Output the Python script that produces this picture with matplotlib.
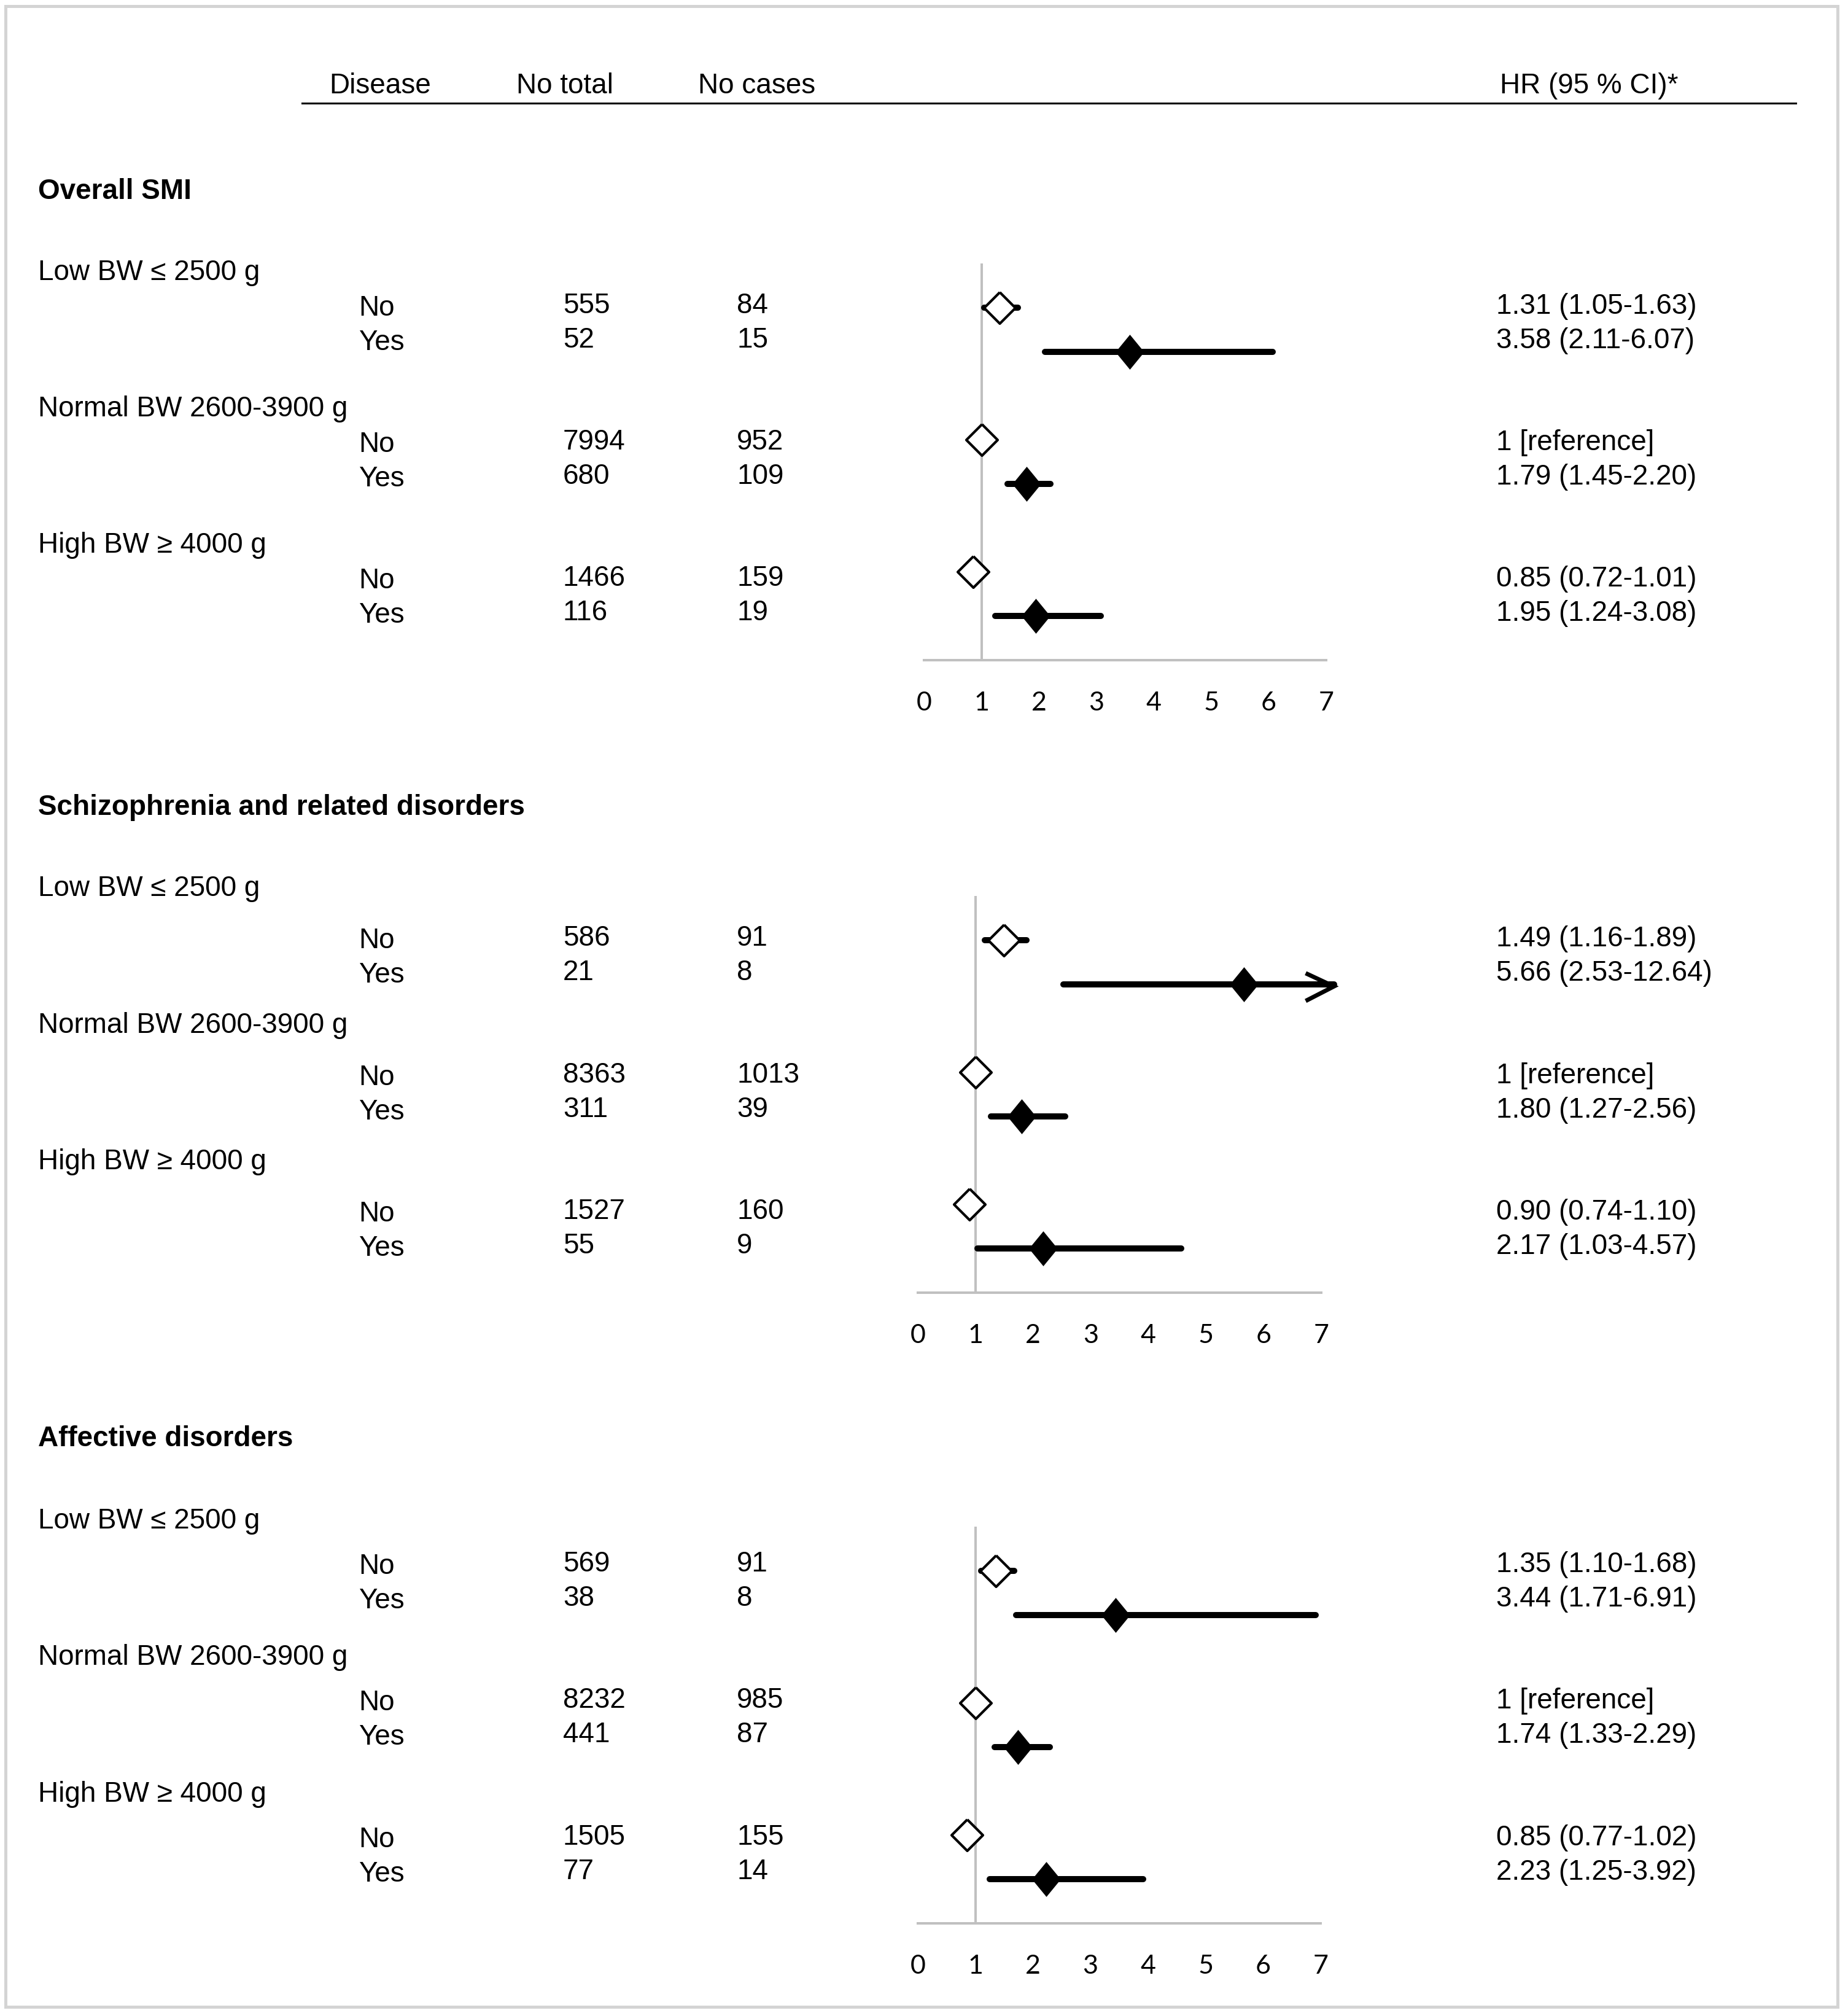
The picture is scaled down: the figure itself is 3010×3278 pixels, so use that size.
import matplotlib
matplotlib.use("Agg")
import matplotlib.pyplot as plt
from matplotlib.patches import Rectangle
from matplotlib.lines import Line2D

plt.rcParams['font.family'] = ['Liberation Sans', 'DejaVu Sans']

# ---------------- data ----------------
sections = ["Overall SMI", "Schizophrenia and related disorders", "Affective disorders"]
groups = ["Low BW \u2264 2500 g", "Normal BW 2600-3900 g", "High BW \u2265 4000 g"]
disease = ["No", "Yes"]
headers = ["Disease", "No total", "No cases", "HR (95 % CI)*"]

n_total = [[555, 52, 7994, 680, 1466, 116],
           [586, 21, 8363, 311, 1527, 55],
           [569, 38, 8232, 441, 1505, 77]]
n_cases = [[84, 15, 952, 109, 159, 19],
           [91, 8, 1013, 39, 160, 9],
           [91, 8, 985, 87, 155, 14]]
hr = [[1.31, 3.58, 1.0, 1.79, 0.85, 1.95],
      [1.49, 5.66, 1.0, 1.80, 0.90, 2.17],
      [1.35, 3.44, 1.0, 1.74, 0.85, 2.23]]
ci_lo = [[1.05, 2.11, None, 1.45, 0.72, 1.24],
         [1.16, 2.53, None, 1.27, 0.74, 1.03],
         [1.10, 1.71, None, 1.33, 0.77, 1.25]]
ci_hi = [[1.63, 6.07, None, 2.20, 1.01, 3.08],
         [1.89, 12.64, None, 2.56, 1.10, 4.57],
         [1.68, 6.91, None, 2.29, 1.02, 3.92]]
xticks = [0, 1, 2, 3, 4, 5, 6, 7]
XMIN, XMAX = 0, 7

# ---------------- layout ----------------
W, H, DPI = 3010, 3278, 100
fig = plt.figure(figsize=(W / DPI, H / DPI), dpi=DPI)
fig.patch.set_facecolor('white')

def fx(px):
    return px / W

def fy(px):
    return 1 - px / H

FS = 33
GREY = '#c0c0c0'

# outer border
fig.add_artist(Rectangle((fx(9), fy(3268)), fx(2993) - fx(9), fy(10) - fy(3268),
                         transform=fig.transFigure, fill=False, ec='#d4d4d4', lw=3.6))

# header
hdr_x = [619, 920, 1233, 2588]
for hx, ht in zip(hdr_x, headers):
    fig.text(fx(hx), fy(152), ht, ha='center', va='baseline', fontsize=FS)
fig.add_artist(Line2D([fx(492), fx(2925)], [fy(168), fy(168)], transform=fig.transFigure,
                      color='black', lw=2.2))

title_base = [324, 1327, 2355]
group_base = [[456, 678, 900], [1459, 1682, 1904], [2489, 2711, 2934]]
row_off = [(58, 114), (85, 141), (74, 130)]
panel_x = [(1505, 2160), (1495, 2152), (1495, 2151)]
row0_px = [501, 1531, 2558]
ROW = 71.7
row_pos = [0, 1, 3, 4, 6, 7]

X_LABEL, X_DIS, X_TOT, X_CAS, X_HR = 62, 584, 917, 1200, 2437

open_marker = [(0, 1), (1, 0), (0, -1), (-1, 0), (0, 1)]
fill_marker = [(0, 1), (0.82, 0), (0, -1), (-0.82, 0), (0, 1)]

for s in range(3):
    # left texts
    fig.text(fx(X_LABEL), fy(title_base[s]), sections[s], ha='left', va='baseline',
             fontsize=FS, fontweight='bold')
    for g in range(3):
        gb = group_base[s][g]
        fig.text(fx(X_LABEL), fy(gb), groups[g], ha='left', va='baseline', fontsize=FS)
        for d in range(2):
            k = 2 * g + d
            yb = gb + row_off[s][d]
            fig.text(fx(X_DIS), fy(yb), disease[d], ha='left', va='baseline', fontsize=FS)
            fig.text(fx(X_TOT), fy(yb - 4), str(n_total[s][k]), ha='left', va='baseline', fontsize=FS)
            fig.text(fx(X_CAS), fy(yb - 4), str(n_cases[s][k]), ha='left', va='baseline', fontsize=FS)
            if ci_lo[s][k] is None:
                lab = "1 [reference]"
            else:
                lab = "{:.2f} ({:.2f}-{:.2f})".format(hr[s][k], ci_lo[s][k], ci_hi[s][k])
            fig.text(fx(X_HR), fy(yb - 3), lab, ha='left', va='baseline', fontsize=FS)

    # forest panel
    x0, x7 = panel_x[s]
    top = row0_px[s] - ROW
    bot = row0_px[s] + 8 * ROW
    ax = fig.add_axes([fx(x0), fy(bot), fx(x7) - fx(x0), (bot - top) / H])
    ax.set_xlim(XMIN, XMAX)
    ax.set_ylim(8, -1)
    ax.patch.set_alpha(0)
    for sp in ['top', 'right', 'left']:
        ax.spines[sp].set_visible(False)
    ax.spines['bottom'].set_color(GREY)
    ax.spines['bottom'].set_linewidth(2.9)
    ax.set_yticks([])
    ax.set_xticks(xticks)
    ax.set_xticklabels([str(t) for t in xticks], fontfamily='Lato', fontsize=31)
    ax.tick_params(axis='x', length=0, pad=59)
    for t in ax.get_xticklabels():
        t.set_verticalalignment('baseline')
    ax.axvline(1, 0, 1, color=GREY, lw=2.9, zorder=1)

    for k in range(6):
        y = row_pos[k]
        lo, hi = ci_lo[s][k], ci_hi[s][k]
        if lo is not None:
            if hi > XMAX:
                tip = XMAX + 0.22
                ax.plot([lo, tip], [y, y], color='black', lw=7.2, solid_capstyle='round',
                        zorder=2, clip_on=False)
                ax.plot([tip - 0.49, tip, tip - 0.49], [y - 0.25, y + 0.05, y + 0.38],
                        color='black', lw=5.0, solid_joinstyle='miter',
                        solid_capstyle='butt', zorder=2, clip_on=False)
            else:
                ax.plot([lo, hi], [y, y], color='black', lw=7.2, solid_capstyle='round',
                        zorder=2, clip_on=False)
        if k % 2 == 0:
            ax.plot([hr[s][k]], [y], marker=open_marker, ms=36.7, mfc='white', mec='black',
                    mew=3.0, ls='none', zorder=3, clip_on=False)
        else:
            ax.plot([hr[s][k]], [y], marker=fill_marker, ms=41, mfc='black', mec='black',
                    mew=0, ls='none', zorder=3, clip_on=False)

fig.savefig('out.png', dpi=DPI, facecolor='white')
